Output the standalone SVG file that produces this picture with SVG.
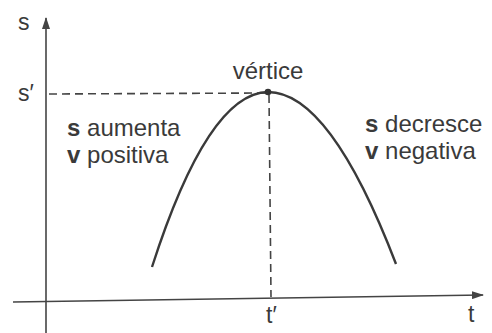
<svg xmlns="http://www.w3.org/2000/svg" width="492" height="333" viewBox="0 0 492 333">
<style>
text{font-family:"Liberation Sans",Arial,sans-serif;fill:#3a3a3a}
.lbl{font-size:24px}
.ax{stroke:#444;stroke-width:1.6;fill:none}
.dash{stroke:#444;stroke-width:1.6;fill:none;stroke-dasharray:8 5}
.curve{stroke:#3a3a3a;stroke-width:2.4;fill:none}
</style>
<defs>
<marker id="arr" viewBox="0 0 12 8" refX="11" refY="4" markerWidth="12" markerHeight="8" markerUnits="userSpaceOnUse" orient="auto">
<path d="M0,0 L12,4 L0,8 Z" fill="#444"/>
</marker>
</defs>
<rect width="492" height="333" fill="#fff"/>
<g id="connectors">
<line class="ax" x1="46" y1="333" x2="46" y2="18" marker-end="url(#arr)"/>
<line class="ax" x1="13" y1="302" x2="483" y2="295" marker-end="url(#arr)"/>
<line class="dash" x1="49" y1="94" x2="266" y2="93"/>
<line class="dash" x1="269" y1="95" x2="271" y2="297"/>
</g>
<g id="parabola">
<path class="curve" d="M152,267 Q208,93 268,92 Q330,92 396,264"/>
<circle cx="268" cy="92" r="3.3" fill="#333"/>
</g>
<g id="axis-labels">
<text x="18" y="30" font-size="23">s</text>
<text x="18" y="101" font-size="23">s′</text>
<text x="266" y="323" font-size="23">t′</text>
<text x="468" y="322" font-size="23">t</text>
</g>
<g id="vertice">
<text class="lbl" x="268" y="79" text-anchor="middle">vértice</text>
</g>
<g id="left-label">
<text class="lbl" x="67" y="136"><tspan font-weight="bold">s</tspan> aumenta</text>
<text class="lbl" x="67" y="163"><tspan font-weight="bold">v</tspan> positiva</text>
</g>
<g id="right-label">
<text class="lbl" x="365" y="132"><tspan font-weight="bold">s</tspan> decresce</text>
<text class="lbl" x="365" y="159"><tspan font-weight="bold">v</tspan> negativa</text>
</g>
</svg>
